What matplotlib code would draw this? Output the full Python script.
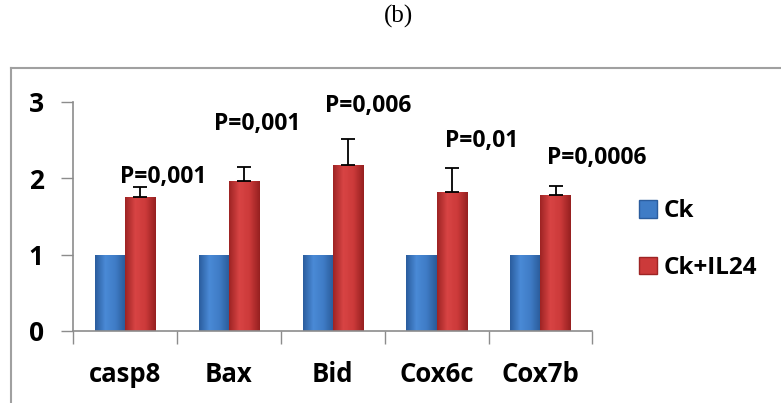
import numpy as np
import matplotlib
matplotlib.use('Agg')
import matplotlib.pyplot as plt
from matplotlib.colors import LinearSegmentedColormap
from matplotlib.lines import Line2D

font = {'family': 'Open Sans', 'weight': 'bold', 'size': 16}
matplotlib.rc('font', **font)

genes = ['casp8', 'Bax', 'Bid', 'Cox6c', 'Cox7b']
ck = [1.0, 1.0, 1.0, 1.0, 1.0]
ck_il24 = [1.75, 1.97, 2.18, 1.82, 1.78]
ck_il24_err = [0.13, 0.18, 0.33, 0.31, 0.12]
p_labels = ['P=0,001', 'P=0,001', 'P=0,006', 'P=0,01', 'P=0,0006']
# where each p-value label sits (data units)
p_x = [0.37, 1.27, 2.34, 3.43, 4.54]
p_y = [2.01, 2.71, 2.95, 2.49, 2.27]
series_names = ['Ck', 'Ck+IL24']

blue_cm = LinearSegmentedColormap.from_list('b', ['#2b5d9e', '#4a8ad6', '#3f7cc6', '#2a5a98'])
red_cm = LinearSegmentedColormap.from_list('r', ['#9e2424', '#d84444', '#cc3a3a', '#962020'])


def shade_bars(ax, bars, cmap):
    # horizontal gradient clipped to every bar
    grad = np.linspace(0, 1, 64).reshape(1, -1)
    for b in bars:
        x, y = b.get_x(), b.get_y()
        w, h = b.get_width(), b.get_height()
        im = ax.imshow(grad, cmap=cmap, aspect='auto', extent=(x, x + w, y, y + h),
                       zorder=b.get_zorder() + 0.1)
        im.set_clip_path(b)


fig = plt.figure(figsize=(7.81, 4.03), dpi=100)
ax = fig.add_axes([0.0935, 0.179, 0.665, 0.568])

x = np.arange(len(genes))
w = 0.29
b1 = ax.bar(x - w / 2, ck, w, color='#3f7cc6', zorder=2)
b2 = ax.bar(x + w / 2, ck_il24, w, color='#cc3a3a', zorder=2)
shade_bars(ax, b1, blue_cm)
shade_bars(ax, b2, red_cm)
ax.errorbar(x + w / 2, ck_il24, yerr=[np.zeros(len(genes)), ck_il24_err], fmt='none',
            ecolor='black', elinewidth=1.3, capsize=5, capthick=1.3, zorder=4)

for i in range(len(genes)):
    ax.text(p_x[i], p_y[i], p_labels[i], ha='center', va='center',
            fontsize=16.5, fontweight='bold')

ax.set_xlim(-0.5, len(genes) - 0.5)
ax.set_ylim(0, 3)
ax.set_yticks([0, 1, 2, 3])
ax.set_xticks(np.arange(-0.5, len(genes), 1.0))
ax.set_xticks(x, minor=True)
ax.set_xticklabels([])
ax.set_xticklabels(genes, minor=True)
ax.tick_params(axis='x', which='minor', length=0, pad=22, labelsize=18.5)
ax.tick_params(axis='x', which='major', length=9, color='#8c8c8c', width=1)
ax.tick_params(axis='y', length=9, color='#8c8c8c', width=1, pad=12, labelsize=19)
for s in ['top', 'right']:
    ax.spines[s].set_visible(False)
for s in ['left', 'bottom']:
    ax.spines[s].set_color('#8c8c8c')
    ax.spines[s].set_linewidth(1.2)

handles = [plt.Rectangle((0, 0), 1, 1, facecolor='#3f7cc6', edgecolor='#2b5d9e'),
           plt.Rectangle((0, 0), 1, 1, facecolor='#cc3a3a', edgecolor='#9e2424')]
fig.legend(handles, series_names, loc='upper left', bbox_to_anchor=(0.806, 0.53),
           frameon=False, fontsize=17.5, handlelength=0.75, handleheight=0.75,
           handletextpad=0.25, labelspacing=1.35, borderaxespad=0)

# outer frame of the chart area
fig.add_artist(Line2D([11 / 781, 11 / 781], [0, 1 - 68 / 403], transform=fig.transFigure,
                      color='#a0a0a0', lw=1.5))
fig.add_artist(Line2D([11 / 781, 1], [1 - 68 / 403, 1 - 68 / 403], transform=fig.transFigure,
                      color='#a0a0a0', lw=1.5))

fig.text(0.51, 0.96, '(b)', ha='center', va='center', fontsize=18,
         family='Liberation Serif', fontweight='normal')

fig.savefig('out.png', dpi=100)
